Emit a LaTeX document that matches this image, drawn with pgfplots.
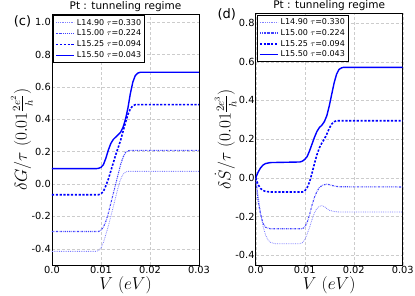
\documentclass[border=0pt]{standalone}
\usepackage{fontspec}
\setmainfont{DejaVu Sans}
\usepackage{pgfplots}
\pgfplotsset{compat=1.18}

\pgfplotsset{
 myaxis/.style={
  scale only axis, width=147pt,
  xmin=0, xmax=0.03,
  xtick={0,0.01,0.02,0.03}, xticklabels={0.0,0.01,0.02,0.03},
  scaled x ticks=false, scaled y ticks=false,
  tick style={draw=none},
  grid=major, major grid style={gray!40, densely dashed, line width=0.35pt},
  axis line style={black, line width=0.9pt},
  tick label style={font=\fontsize{9.8}{11}\selectfont},
  /pgf/number format/assume math mode=true,
  yticklabel style={/pgf/number format/fixed, /pgf/number format/fixed zerofill, /pgf/number format/precision=1, inner sep=1pt},
  xticklabel style={inner sep=1.5pt},
  every axis title shift=0pt,
  title style={font=\fontsize{10.5}{12}\selectfont, at={(axis description cs:0.5,1)}, anchor=base, yshift=4.5pt, inner sep=0pt},
  xlabel style={font=\fontsize{16}{18}\selectfont, at={(axis description cs:0.5,-0.044)}, anchor=north, inner sep=0pt},
  ylabel style={font=\fontsize{16}{18}\selectfont, at={(axis description cs:-0.205,0.5)}, anchor=center, inner sep=0pt},
  legend style={at={(axis description cs:0.01,0.995)}, anchor=north west, font=\fontsize{8}{9}\selectfont, draw=black, line width=0.8pt, inner sep=1.5pt, row sep=-0.6pt, cells={anchor=west}},
  legend image code/.code={\draw[##1] (0pt,0pt) -- (18pt,0pt);},
 },
 sa/.style={blue!50, line width=0.8pt, densely dotted},
 sb/.style={blue!75, line width=1.1pt, dash pattern=on 1.6pt off 1pt on 0.6pt off 1pt},
 sc/.style={blue, line width=1.6pt, dash pattern=on 2.2pt off 1.6pt},
 sd/.style={blue, line width=1.4pt},
}

\begin{document}
\begin{tikzpicture}
\useasboundingbox (-52pt,-31pt) rectangle (363pt,265pt);

\begin{axis}[myaxis, at={(0pt,0pt)}, anchor=south west, height=251pt,
  ymin=-0.5, ymax=1.05, ytick={-0.4,-0.2,0,0.2,0.4,0.6,0.8,1.0},
  title={Pt : tunneling regime},
  xlabel={$V\ (eV)$},
  ylabel={$\delta G/\tau\ (0.01\frac{2e^2}{h})$}]
\addplot[sa] coordinates {(0,-0.416) (0.009,-0.416) (0.0095,-0.41) (0.010,-0.395) (0.0105,-0.36) (0.011,-0.31) (0.0115,-0.26) (0.012,-0.20) (0.0125,-0.14) (0.013,-0.08) (0.0135,-0.02) (0.014,0.03) (0.0145,0.06) (0.015,0.074) (0.0155,0.078) (0.03,0.078)};
\addlegendentry{L14.90 $\tau$=0.330}
\addplot[sb] coordinates {(0,-0.293) (0.0095,-0.293) (0.010,-0.285) (0.0105,-0.265) (0.011,-0.23) (0.0115,-0.18) (0.012,-0.12) (0.0125,-0.06) (0.013,0.0) (0.0135,0.06) (0.014,0.12) (0.0145,0.165) (0.015,0.195) (0.0155,0.205) (0.016,0.208) (0.03,0.208)};
\addlegendentry{L15.00 $\tau$=0.224}
\addplot[sc] coordinates {(0,-0.066) (0.0095,-0.066) (0.010,-0.06) (0.0105,-0.045) (0.011,-0.01) (0.0115,0.03) (0.012,0.08) (0.0125,0.13) (0.013,0.18) (0.0135,0.225) (0.014,0.27) (0.0145,0.325) (0.015,0.38) (0.0155,0.43) (0.016,0.465) (0.0165,0.483) (0.017,0.49) (0.03,0.49)};
\addlegendentry{L15.25 $\tau$=0.094}
\addplot[sd] coordinates {(0,0.095) (0.009,0.095) (0.0095,0.097) (0.010,0.103) (0.0105,0.12) (0.011,0.16) (0.0115,0.21) (0.012,0.25) (0.0125,0.275) (0.013,0.29) (0.0135,0.305) (0.014,0.32) (0.0145,0.35) (0.015,0.40) (0.0155,0.47) (0.016,0.56) (0.0165,0.63) (0.017,0.67) (0.0175,0.685) (0.018,0.69) (0.03,0.69)};
\addlegendentry{L15.50 $\tau$=0.043}
\end{axis}

\begin{axis}[myaxis, at={(203.7pt,0pt)}, anchor=south west, height=251.7pt,
  ymin=-0.45, ymax=0.85, ytick={-0.4,-0.2,0,0.2,0.4,0.6,0.8},
  title={Pt : tunneling regime},
  xlabel={$V\ (eV)$},
  ylabel={$\delta\dot S/\tau\ (0.01\frac{2e^3}{h})$}]
\addplot[sa] coordinates {(0,0) (0.0005,-0.09) (0.001,-0.18) (0.0015,-0.25) (0.002,-0.295) (0.0025,-0.32) (0.003,-0.333) (0.004,-0.34) (0.009,-0.34) (0.0095,-0.335) (0.010,-0.32) (0.0105,-0.29) (0.011,-0.255) (0.0115,-0.215) (0.012,-0.18) (0.0125,-0.158) (0.013,-0.147) (0.0135,-0.144) (0.014,-0.148) (0.0145,-0.158) (0.015,-0.167) (0.016,-0.174) (0.017,-0.176) (0.03,-0.176)};
\addlegendentry{L14.90 $\tau$=0.330}
\addplot[sb] coordinates {(0,0) (0.0005,-0.12) (0.001,-0.19) (0.0015,-0.235) (0.002,-0.255) (0.003,-0.263) (0.0095,-0.263) (0.010,-0.255) (0.0105,-0.23) (0.011,-0.19) (0.0115,-0.14) (0.012,-0.10) (0.0125,-0.07) (0.013,-0.05) (0.0135,-0.04) (0.014,-0.035) (0.0145,-0.033) (0.015,-0.035) (0.016,-0.042) (0.017,-0.046) (0.03,-0.047)};
\addlegendentry{L15.00 $\tau$=0.224}
\addplot[sc] coordinates {(0,0) (0.0005,-0.035) (0.001,-0.055) (0.0015,-0.065) (0.002,-0.07) (0.003,-0.073) (0.0095,-0.073) (0.010,-0.068) (0.0105,-0.05) (0.011,-0.02) (0.0115,0.025) (0.012,0.075) (0.0125,0.12) (0.013,0.155) (0.0135,0.18) (0.014,0.2) (0.0145,0.225) (0.015,0.255) (0.0155,0.278) (0.016,0.29) (0.0165,0.295) (0.03,0.295)};
\addlegendentry{L15.25 $\tau$=0.094}
\addplot[sd] coordinates {(0,0.0) (0.0005,0.03) (0.001,0.052) (0.0015,0.066) (0.002,0.074) (0.003,0.079) (0.005,0.08) (0.009,0.082) (0.0095,0.086) (0.010,0.095) (0.0105,0.11) (0.011,0.14) (0.0115,0.175) (0.012,0.21) (0.0125,0.24) (0.013,0.26) (0.0135,0.272) (0.014,0.29) (0.0145,0.32) (0.015,0.37) (0.0155,0.43) (0.016,0.49) (0.0165,0.535) (0.017,0.56) (0.0175,0.568) (0.018,0.571) (0.03,0.571)};
\addlegendentry{L15.50 $\tau$=0.043}
\end{axis}

\node[font=\fontsize{13}{15}\selectfont, inner sep=0pt] at (-29.5pt,243.5pt) {(c)};
\node[font=\fontsize{13}{15}\selectfont, inner sep=0pt] at (174.7pt,251pt) {(d)};
\end{tikzpicture}
\end{document}
